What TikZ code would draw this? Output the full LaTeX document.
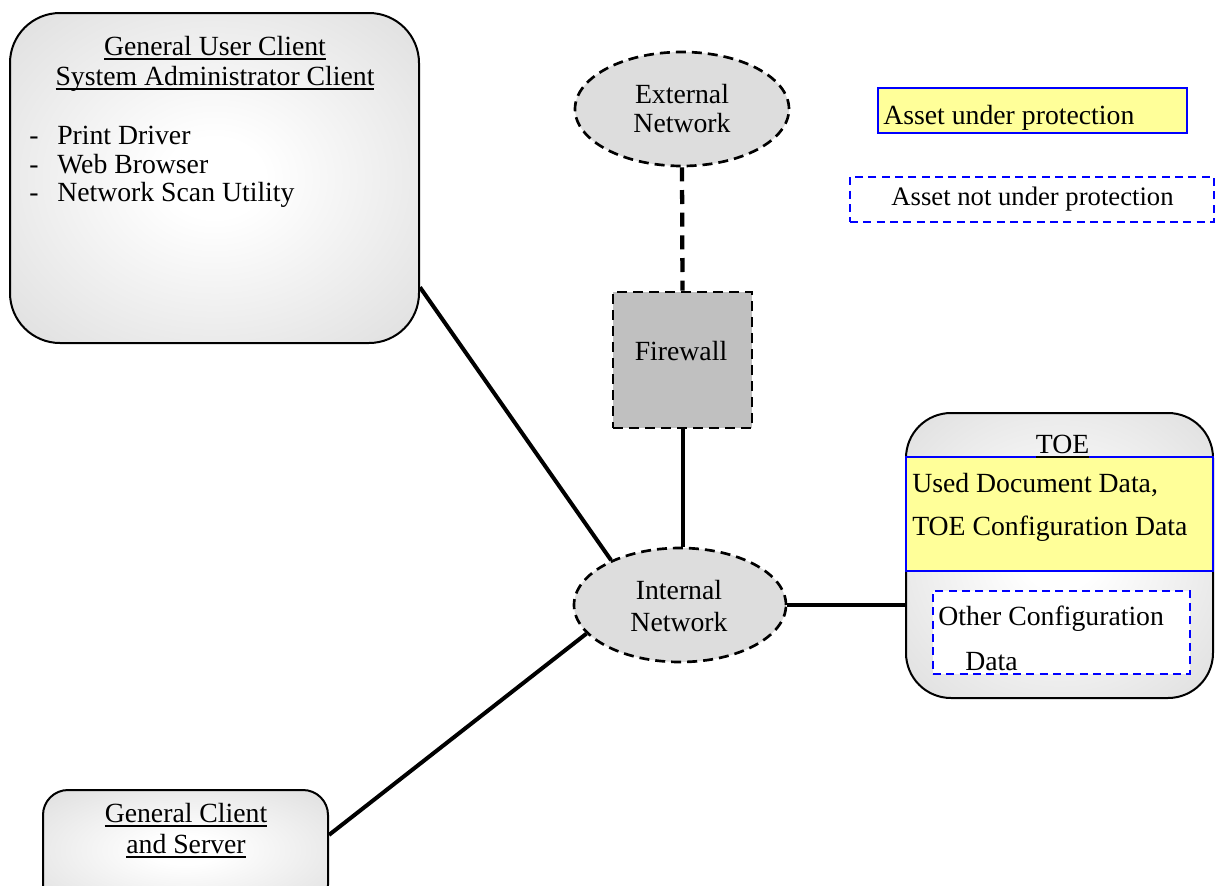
\documentclass[tikz,border=0pt]{standalone}
\usepackage{fontspec}
\setmainfont{Liberation Serif}
\usetikzlibrary{shapes.geometric}

\definecolor{panelgrey}{HTML}{DCDCDC}
\definecolor{cloudgrey}{HTML}{DDDDDD}
\definecolor{wallgrey}{HTML}{C0C0C0}
\definecolor{assetyellow}{HTML}{FFFF99}
\definecolor{assetblue}{HTML}{0000FF}

% soft white glow in the middle of the grey panels
\pgfdeclareradialshading{panelglow}{\pgfpoint{0bp}{0bp}}{%
  color(0bp)=(white); color(6bp)=(white);
  color(38bp)=(panelgrey); color(50bp)=(panelgrey)}

% underline at a fixed distance below the baseline
\newcommand{\undl}[1]{\leavevmode\setbox0\hbox{#1}\rlap{\rule[-3.4pt]{\wd0}{1.1pt}}\box0}

\tikzset{
  every node/.style={font=\fontsize{20.8}{22.5}\selectfont, inner sep=0pt},
  panel/.style={rectangle, draw=black, line width=1.5pt, rounded corners=37.5pt,
                shade, shading=panelglow},
  cloud/.style={ellipse, draw=black, fill=cloudgrey, line width=2pt,
                dash pattern=on 7.5pt off 4.5pt},
  wall/.style={rectangle, draw=black, fill=wallgrey, line width=2pt,
               dash pattern=on 7.5pt off 4.5pt},
  guarded/.style={rectangle, draw=assetblue, fill=assetyellow, line width=1.4pt},
  unguarded/.style={rectangle, draw=assetblue, fill=white, line width=1.2pt,
                    dash pattern=on 6pt off 4pt},
  link/.style={line width=3pt},
  uplink/.style={line width=3.2pt, dash pattern=on 10.5pt off 6.5pt},
  line/.style={anchor=base},
  lineleft/.style={anchor=base west},
}

\begin{document}
\begin{tikzpicture}[x=0.75pt, y=-0.75pt]
\useasboundingbox (0,0) rectangle (1215,886);
\clip (0,0) rectangle (1215,886);

% client panel
\node[panel, minimum width=306.75pt, minimum height=247.5pt] (user) at (214.5,178) {};
\node[line] (userhead1) at (215,55) {\undl{General User Client}};
\node[line] (userhead2) at (215,85) {\undl{System Administrator Client}};
\node[lineleft] (dash1) at (29,144) {-};
\node[lineleft] (item1) at (57,144) {Print Driver};
\node[lineleft] (dash2) at (29,173) {-};
\node[lineleft] (item2) at (57,173) {Web Browser};
\node[lineleft] (dash3) at (29,201) {-};
\node[lineleft] (item3) at (57,201) {Network Scan Utility};

% general client and server
\node[panel, rounded corners=18.75pt, minimum width=213.75pt, minimum height=90pt] (gcs) at (185.5,850) {};
\node[line] (gcshead1) at (186,822) {\undl{General Client}};
\node[line] (gcshead2) at (186,853) {\undl{and Server}};

% networks and firewall
\node[cloud, minimum width=160.5pt, minimum height=85.5pt] (ext) at (682,109) {};
\node[line] (exttext1) at (682,103) {External};
\node[line] (exttext2) at (682,132) {Network};

\node[wall, minimum width=104.25pt, minimum height=102pt] (fw) at (682.5,360) {};
\node[line] (fwtext) at (681,360) {Firewall};

\node[cloud, minimum width=159pt, minimum height=85.5pt] (inet) at (680,605) {};
\node[line] (inettext1) at (679,599) {Internal};
\node[line] (inettext2) at (679,631) {Network};

% TOE with its assets
\node[panel, rounded corners=33.75pt, minimum width=230.25pt, minimum height=213.75pt] (toe) at (1059.5,555.5) {};
\node[guarded, minimum width=230.25pt, minimum height=85.5pt] (toeasset) at (1059.5,514) {};
\node[line] (toetitle) at (1062.5,453) {\undl{TOE}};
\node[lineleft] (asset1) at (912,492) {Used Document Data,};
\node[lineleft] (asset2) at (912,535) {TOE Configuration Data};
\node[unguarded, minimum width=192.75pt, minimum height=62.25pt] (toeother) at (1061.5,632.5) {};
\node[lineleft] (other1) at (938,625) {Other Configuration};
\node[lineleft] (other2) at (965,670) {Data};

% legend
\node[guarded, minimum width=231.75pt, minimum height=33.75pt] (keyin) at (1032.5,110.5) {};
\node[lineleft] (keyintext) at (883,124) {Asset under protection};
\node[unguarded, minimum width=273pt, minimum height=33.75pt] (keyout) at (1032,199.5) {};
\node[line, font=\fontsize{20}{22}\selectfont] (keyouttext) at (1032.5,205) {Asset not under protection};

% connections
\draw[link] (user.-28.9) -- (inet.147.2);
\draw[link] (gcs.6.8) -- (inet.197);
\draw[link] (inet.east) -- (inet.east -| toe.west);
\draw[link] (fw.south) -- (fw.south |- inet.north);
\draw[uplink] (ext.south) -- (fw.north);
\end{tikzpicture}
\end{document}
